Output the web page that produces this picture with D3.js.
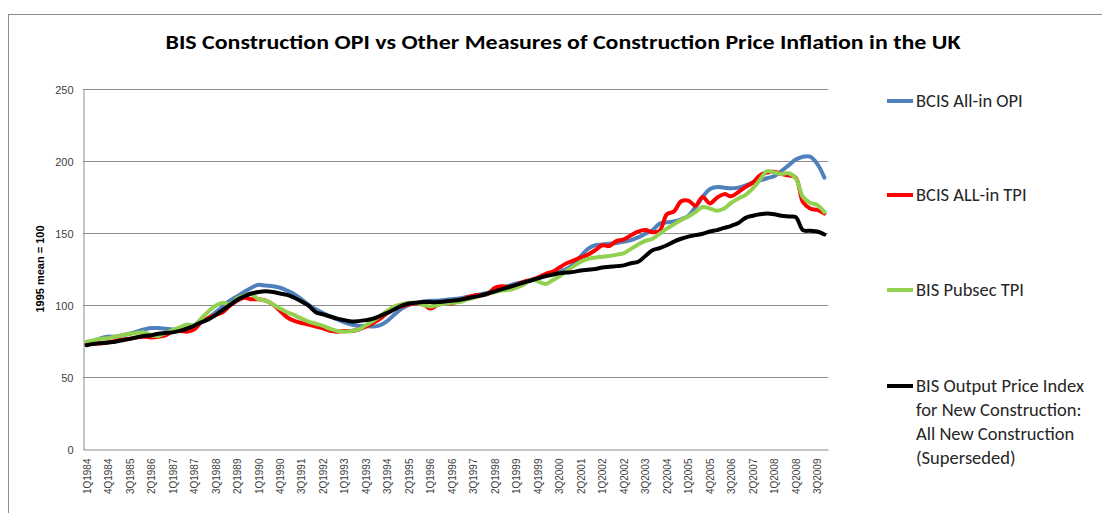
<!DOCTYPE html>
<html>
<head>
<meta charset="utf-8">
<script src="https://cdn.jsdelivr.net/npm/d3@7"></script>
<style>
  body { margin: 0; background: #fff; }
  svg { display: block; font-family: Carlito, Lato, "Liberation Sans", sans-serif; }
</style>
</head>
<body>
<svg></svg>
<script>
// quarters 1Q1984 .. 4Q2009
let years = d3.range(1984, 2010)
let quarters = []
years.forEach(function(y) {
  for (let q = 1; q <= 4; q++) quarters.push(q + "Q" + y)
})

// values, one per quarter
let bcisOpi = [
  73.5, 75, 77, 78,   78, 79, 80, 81.5,   83, 84, 84, 83.5,   83, 83, 84, 85,
  88, 91, 95, 99,   103, 106, 109, 112,   114, 113.5, 113, 112,   110, 107.5, 104, 100,
  97, 94.5, 92, 90,   88, 86.5, 85.5, 85.5,   85, 86, 89, 93.5,   97.5, 100, 101.5, 102.5,
  103, 103, 103.5, 104,   104.5, 105.5, 106.5, 107.5,   108.5, 110, 112, 113.5,   115, 116, 117, 118.5,
  120, 121.5, 123, 125,   128.5, 134, 139, 141.5,   142, 142.5, 143, 144,   145, 147, 149.5, 152,
  156.5, 157.5, 158, 159.5,   162, 168, 175, 180.5,   182, 181.5, 181, 181.5,   183, 185, 186.5, 188,
  189.5, 193, 197, 201,   203, 203, 198, 188.5
]
let bcisTpi = [
  73, 73, 73.5, 74,   75, 76, 76.5, 77.5,   78, 77.5, 78, 79,   81.5, 82, 81.5, 83,
  88, 91, 93, 95,   99.5, 103, 105, 104,   104, 103, 100.5, 96,   91.5, 89, 87.5, 86.5,
  85, 83.8, 82, 81.5,   82, 82, 83, 85,   87.5, 90.5, 94.5, 97.5,   99, 100.5, 101, 100.5,
  97.5, 100, 101.5, 101,   103, 105, 106.5, 107,   107.5, 112, 113, 112.5,   114, 116, 117.5, 119,
  121.5, 123, 126, 129,   131, 133, 135, 138,   141.5, 141, 144.5, 145.5,   148.5, 151, 152, 150.5,
  151.5, 163, 165, 172,   172.5, 169, 175, 170.5,   174.5, 177, 175.5, 178.5,   182, 185, 190, 192,
  192.5, 191, 190, 188.5,   171.5, 167, 166, 163.5
]
let pubsecTpi = [
  74.5, 75.5, 76.5, 77,   78, 79, 80, 80.5,   81, 79, 78.5, 80.5,   82.5, 84.5, 86.5, 86,
  90.5, 95.5, 99.5, 101.5,   100.5, 104.5, 106.5, 107.5,   104, 103, 100.5, 97.5,   95, 93, 90.5, 88.5,
  87, 85.5, 83.5, 82,   81.5, 82, 83, 86,   89, 92.5, 96, 99,   100.5, 101.5, 101.5, 100,
  99, 100, 101, 101.5,   102, 103.5, 105, 106.5,   108, 109, 110, 110.5,   112, 114, 117.5, 116.5,
  114.5, 117, 120, 123.5,   127, 130, 132, 133,   133.5, 134, 135, 136,   139, 142, 144.5, 146,
  149.5, 153, 156, 159,   161.5, 164.5, 168, 167,   165.5, 167, 171, 174,   176.5, 181, 187, 193,
  192, 191, 191.5, 188,   175, 171, 169.5, 164.5
]
let bisOpi = [
  72, 73, 73.5, 74,   74.5, 75.5, 76.5, 77.5,   78.5, 79, 80, 80.5,   81, 82, 83.5, 85.5,
  88, 90, 93, 96.5,   100, 103.5, 106, 108,   109, 109.5, 109, 108,   107, 105, 102.5, 99.5,
  95, 93.5, 92, 90.5,   89.5, 88.5, 88.8, 89.5,   90.5, 92.5, 94.5, 97,   99.5, 101, 101.5, 102,
  102, 102, 102.5, 103,   103.5, 104.5, 105.5, 106.5,   108, 109.5, 111, 112.5,   114, 115.5, 117, 118.5,
  120, 121, 122, 122.5,   123, 124, 124.5, 125,   126, 126.5, 127, 127.5,   129, 130, 134, 138,
  139.5, 141.5, 144, 146,   147.5, 148.5, 149.5, 151,   152, 153.5, 155, 157,   160.5, 162, 163, 163.5,
  163, 162, 161.5, 161,   152, 151.5, 151, 149
]

let seriesNames = ["BCIS All-in OPI", "BCIS ALL-in TPI", "BIS Pubsec TPI",
  "BIS Output Price Index|for New Construction:|All New Construction|(Superseded)"]
let seriesColors = ["#4f81bd", "#ff0000", "#92d050", "#000000"]
let seriesValues = [bcisOpi, bcisTpi, pubsecTpi, bisOpi]
let yTicks = [0, 50, 100, 150, 200, 250]

let width = 1102
let height = 513
let plotLeft = 83, plotRight = 828, plotTop = 89, plotBottom = 449

let svg = d3.select("svg").attr("width", width).attr("height", height)

// chart border
svg.append("rect")
   .attr("x", 8.5).attr("y", 14.5)
   .attr("width", 1100).attr("height", 520)
   .attr("fill", "none").attr("stroke", "#8c8c8c")

svg.append("text")
   .attr("x", 563).attr("y", 49)
   .attr("text-anchor", "middle")
   .attr("font-size", 20).attr("font-weight", "bold")
   .attr("fill", "#000")
   .attr("textLength", 795).attr("lengthAdjust", "spacingAndGlyphs")
   .text("BIS Construction OPI vs Other Measures of Construction Price Inflation in the UK")

let xScale = d3.scalePoint().domain(quarters).range([plotLeft, plotRight]).padding(0.5)
let yScale = d3.scaleLinear().domain([0, 250]).range([plotBottom, plotTop])

// gridlines
svg.append("g")
   .selectAll("line")
   .data(yTicks.slice(1))
   .enter()
   .append("line")
   .attr("x1", plotLeft).attr("x2", plotRight)
   .attr("y1", (d) => yScale(d) + 0.5).attr("y2", (d) => yScale(d) + 0.5)
   .attr("stroke", "#8c8c8c")

let yAxis = d3.axisLeft(yScale).tickValues(yTicks).tickSize(0).tickPadding(10)
let yg = svg.append("g").attr("transform", "translate(" + (plotLeft + 0.5) + ",0.5)").call(yAxis)
yg.select(".domain").attr("stroke", "#8c8c8c")
yg.selectAll("text").attr("font-size", 11).attr("fill", "#404040")
  .attr("font-family", "'Liberation Sans', sans-serif")

let xAxis = d3.axisBottom(xScale)
              .tickValues(quarters.filter((d, i) => i % 3 == 0))
              .tickSize(0).tickPadding(9)
let xg = svg.append("g").attr("transform", "translate(0," + (plotBottom + 0.5) + ")").call(xAxis)
xg.select(".domain").attr("stroke", "#8c8c8c")
xg.selectAll("text")
  .attr("font-size", 10).attr("fill", "#404040")
  .attr("font-family", "'Liberation Sans', sans-serif")
  .attr("transform", "rotate(-90)")
  .attr("text-anchor", "end")
  .attr("x", -9).attr("y", 0).attr("dy", "0.35em")

svg.append("text")
   .attr("transform", "translate(44," + ((plotTop + plotBottom) / 2) + ") rotate(-90)")
   .attr("text-anchor", "middle")
   .attr("font-size", 11).attr("font-weight", "bold")
   .attr("font-family", "'Liberation Sans', sans-serif")
   .text("1995 mean = 100")

let line = d3.line()
             .x((d, i) => xScale(quarters[i]))
             .y((d) => yScale(d))
             .curve(d3.curveCatmullRom)

svg.append("g")
   .selectAll("path")
   .data(seriesValues)
   .enter()
   .append("path")
   .attr("d", (d) => line(d))
   .attr("fill", "none")
   .attr("stroke", (d, i) => seriesColors[i])
   .attr("stroke-width", 4)
   .attr("stroke-linejoin", "round")
   .attr("stroke-linecap", "round")

// legend
let legendY = [101, 195, 290, 386]
let legend = svg.append("g")
seriesNames.forEach(function(name, i) {
  legend.append("line")
        .attr("x1", 887).attr("x2", 913)
        .attr("y1", legendY[i]).attr("y2", legendY[i])
        .attr("stroke", seriesColors[i]).attr("stroke-width", 4)
  let t = legend.append("text")
                .attr("x", 916).attr("y", legendY[i])
                .attr("font-size", 18.5).attr("fill", "#262626")
  name.split("|").forEach(function(part, j) {
    t.append("tspan").attr("x", 916).attr("dy", j == 0 ? "0.35em" : 23.7).text(part)
  })
})
</script>
</body>
</html>
